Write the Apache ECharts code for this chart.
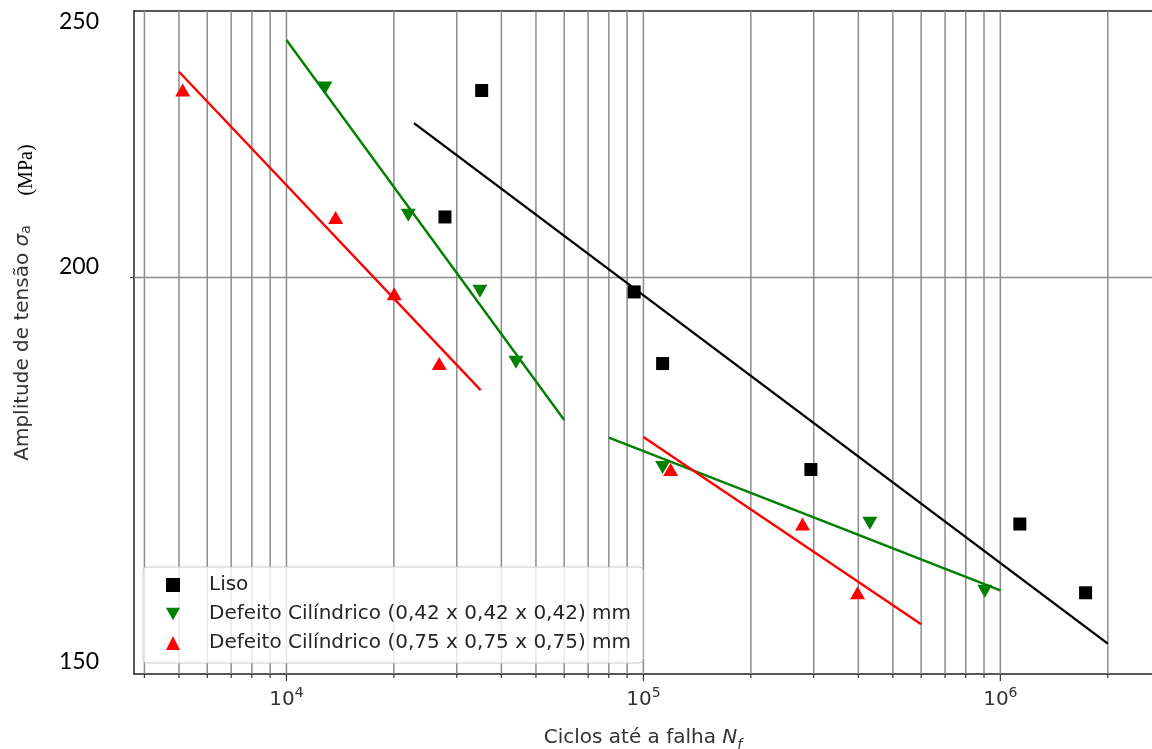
<!DOCTYPE html>
<html><head><meta charset="utf-8">
<script src="https://cdn.jsdelivr.net/npm/echarts@6/dist/echarts.min.js"></script>
<style>html,body{margin:0;padding:0;background:#fff}#c{width:1152px;height:749px}</style>
</head><body><div id="c"></div>
<script>
// ---- data ----
const seriesNames = ['Liso', 'Defeito Cilíndrico (0,42 x 0,42 x 0,42) mm', 'Defeito Cilíndrico (0,75 x 0,75 x 0,75) mm'];
const lisoX = [35230, 27800, 94240, 113200, 294600, 1134000, 1733000];
const lisoY = [233.9, 210.4, 197.6, 186.1, 170.3, 162.7, 153.6];
const d42X = [12820, 21940, 34830, 43950, 113200, 430900, 904800];
const d42Y = [234.4, 210.7, 197.7, 186.3, 170.6, 162.8, 153.8];
const d75X = [5120, 13730, 20040, 26790, 119200, 279200, 398100];
const d75Y = [234.0, 210.3, 197.3, 186.1, 170.3, 162.7, 153.6];
const fitLisoX = [22760, 2000000];
const fitLisoY = [227.6, 147.2];
const fit42aX = [10000, 60000];
const fit42aY = [244.0, 177.5];
const fit42bX = [80000, 300000, 1000000];
const fit42bY = [174.9, 163.6, 153.9];
const fit75aX = [5000, 35000];
const fit75aY = [237.6, 182.0];
const fit75bX = [100000, 600000];
const fit75bY = [175.0, 149.6];
const xMajorTicks = [10000, 100000, 1000000];
const xMinorTicks = [4000, 5000, 6000, 7000, 8000, 9000, 20000, 30000, 40000, 50000, 60000, 70000, 80000, 90000,
  200000, 300000, 400000, 500000, 600000, 700000, 800000, 900000, 2000000];
const yGridTicks = [200];
const yTickLabels = ['250', '200', '150'];
const xTitle = 'Ciclos até a falha {i|N}{sub|f}';
const yTitle = 'Amplitude de tensão {i|σ}{sub|a}';
const yUnit = '(MPa)';

// ---- axis extents / layout ----
const X_MIN = 3740, X_MAX = 2.66e6, Y_MIN = 143.5, Y_MAX = 250;
const yTickLabelPos = [22, 267, 662];

const zip = (xs, ys) => xs.map((x, i) => [x, ys[i]]);
const GRID_COLOR = '#8c8c8c', AXIS_COLOR = '#222';

const chart = echarts.init(document.getElementById('c'), null, {renderer: 'canvas'});

const xGridData = xMajorTicks.map(v => [v, 200, 1]).concat(xMinorTicks.map(v => [v, 200, 0]));

function lineSeries(xs, ys, color) {
  return {type: 'line', data: zip(xs, ys), symbol: 'none', z: 3, silent: true,
    lineStyle: {color: color, width: 2.4}, itemStyle: {color: color}};
}

const downTri = 'path://M0,0L10,0L5,9Z';

chart.setOption({
  animation: false,
  backgroundColor: '#fff',
  grid: {left: 134, top: 11, right: 0, bottom: 75, containLabel: false, outerBoundsMode: 'none'},
  xAxis: [{
    type: 'log', logBase: 10, min: X_MIN, max: X_MAX,
    axisLine: {show: true, lineStyle: {color: AXIS_COLOR, width: 1.5}},
    axisTick: {show: false}, splitLine: {show: false}, minorTick: {show: false},
    axisLabel: {
      margin: 12, fontFamily: 'DejaVu Sans', fontSize: 20, color: '#333', lineHeight: 28,
      formatter: v => {
        const e = Math.log10(v);
        return Math.abs(e - Math.round(e)) < 1e-6 ? '10{s|' + Math.round(e) + '}' : '';
      },
      rich: {s: {fontSize: 14, fontFamily: 'DejaVu Sans', color: '#333', verticalAlign: 'top', lineHeight: 14}}
    },
    name: xTitle, nameLocation: 'middle', nameGap: 50,
    nameTextStyle: {fontFamily: 'DejaVu Sans', fontSize: 20, color: '#333', lineHeight: 28,
      rich: {
        i: {fontFamily: 'DejaVu Sans', fontStyle: 'italic', fontSize: 20, color: '#333', lineHeight: 28},
        sub: {fontFamily: 'DejaVu Sans', fontStyle: 'italic', fontSize: 14, color: '#333', verticalAlign: 'bottom', lineHeight: 14}
      }}
  }, {
    type: 'log', logBase: 10, min: X_MIN, max: X_MAX, position: 'top',
    axisLine: {show: true, lineStyle: {color: AXIS_COLOR, width: 1.5}},
    axisTick: {show: false}, axisLabel: {show: false}, splitLine: {show: false}
  }],
  yAxis: {
    type: 'log', logBase: 10, min: Y_MIN, max: Y_MAX,
    axisLine: {show: true, lineStyle: {color: AXIS_COLOR, width: 1.5}},
    axisTick: {show: false}, axisLabel: {show: false}, splitLine: {show: false}, minorTick: {show: false}
  },
  legend: {
    orient: 'vertical', left: 143, top: 567,
    padding: [8, 12, 10, 23], itemGap: 9, itemWidth: 14, itemHeight: 14,
    backgroundColor: 'rgba(255,255,255,0.8)', borderColor: '#cccccc', borderWidth: 1, borderRadius: 4,
    textStyle: {fontFamily: 'DejaVu Sans', fontSize: 20, lineHeight: 20, color: '#262626', padding: [0, 0, 0, 24]},
    data: seriesNames
  },
  graphic: [
    {type: 'text', x: 23, y: 343, rotation: Math.PI / 2, silent: true,
      style: {text: yTitle, fontFamily: 'DejaVu Sans', fontSize: 20, fill: '#333', align: 'center', verticalAlign: 'middle',
        rich: {
          i: {fontFamily: 'DejaVu Sans', fontStyle: 'italic', fontSize: 20, fill: '#333'},
          sub: {fontFamily: 'DejaVu Sans', fontSize: 14, fill: '#333', verticalAlign: 'bottom', lineHeight: 14, padding: [6, 0, 0, 0]}
        }}},
    {type: 'text', x: 27, y: 170, rotation: Math.PI / 2, silent: true,
      style: {text: yUnit, fontFamily: 'Liberation Serif', fontSize: 20, fill: '#000', align: 'center', verticalAlign: 'middle'}}
  ].concat(yTickLabels.map((t, i) => ({
    type: 'text', x: 99, y: yTickLabelPos[i], silent: true,
    style: {text: t, fontFamily: 'Lato', fontSize: 23, fill: '#000', align: 'right', verticalAlign: 'middle'}
  }))),
  series: [
    {type: 'custom', coordinateSystem: 'cartesian2d', silent: true, z: 1, clip: false,
      data: xGridData,
      renderItem: (params, api) => {
        const v = api.value(0);
        const top = api.coord([v, Y_MAX]);
        const bot = api.coord([v, Y_MIN]);
        const len = api.value(2) === 1 ? 7 : 4;
        return {type: 'group', children: [
          {type: 'line', shape: {x1: top[0], y1: top[1], x2: bot[0], y2: bot[1]}, style: {stroke: GRID_COLOR, lineWidth: 1.5}},
          {type: 'line', shape: {x1: bot[0], y1: bot[1], x2: bot[0], y2: bot[1] + len}, style: {stroke: '#333', lineWidth: 1.2}}
        ]};
      }},
    {type: 'custom', coordinateSystem: 'cartesian2d', silent: true, z: 1, clip: false,
      data: yGridTicks.map(v => [X_MIN, v]),
      renderItem: (params, api) => {
        const v = api.value(1);
        const l = api.coord([X_MIN, v]);
        const r = api.coord([X_MAX, v]);
        return {type: 'group', children: [
          {type: 'line', shape: {x1: l[0], y1: l[1], x2: r[0], y2: r[1]}, style: {stroke: GRID_COLOR, lineWidth: 1.5}},
          {type: 'line', shape: {x1: l[0] - 4, y1: l[1], x2: l[0], y2: l[1]}, style: {stroke: '#333', lineWidth: 1.2}}
        ]};
      }},
    lineSeries(fitLisoX, fitLisoY, '#000000'),
    lineSeries(fit42aX, fit42aY, '#008000'),
    lineSeries(fit42bX, fit42bY, '#008000'),
    lineSeries(fit75aX, fit75aY, '#ff0000'),
    lineSeries(fit75bX, fit75bY, '#ff0000'),
    {type: 'scatter', name: seriesNames[0], data: zip(lisoX, lisoY), symbol: 'rect', symbolSize: 13, z: 4,
      itemStyle: {color: '#000000', opacity: 1}},
    {type: 'scatter', name: seriesNames[1], data: zip(d42X, d42Y), symbol: downTri, symbolSize: [15, 13], z: 4,
      itemStyle: {color: '#008000', opacity: 1}},
    {type: 'scatter', name: seriesNames[2], data: zip(d75X, d75Y), symbol: 'triangle', symbolSize: [15, 13], z: 4,
      itemStyle: {color: '#ff0000', opacity: 1}}
  ]
});
</script>
</body></html>
